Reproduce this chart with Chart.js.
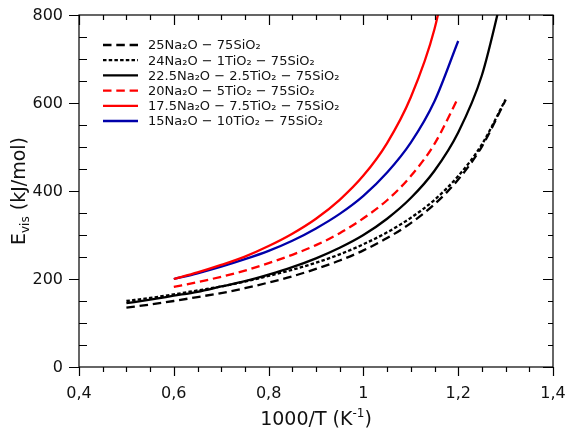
<!DOCTYPE html>
<html>
<head>
<meta charset="utf-8">
<script src="https://cdn.jsdelivr.net/npm/chart.js@4.4.0/dist/chart.umd.min.js"></script>
<style>
  html, body { margin: 0; padding: 0; background: #fff; }
  canvas { display: block; }
</style>
</head>
<body>
<canvas id="myChart" width="574" height="441"></canvas>
<script>
"use strict";

// DATA
const xWide = [0.5, 0.55, 0.6, 0.65, 0.7, 0.75, 0.8, 0.85, 0.9, 0.95, 1.0, 1.05, 1.1, 1.15, 1.2, 1.25, 1.3];
const xNarrow = [0.6, 0.65, 0.7, 0.75, 0.8, 0.85, 0.9, 0.95, 1.0, 1.05, 1.1, 1.15, 1.2];

const na25 = [135, 142, 150, 159, 168, 179, 192, 206, 223, 242, 265, 293, 327, 370, 426, 501, 607];
const na24 = [150, 157, 165, 174, 183, 194, 207, 221, 237, 256, 279, 306, 339, 380, 434, 506, 608];
const na225 = [145, 153, 162, 171, 183, 195, 210, 227, 247, 271, 300, 337, 384, 446, 533, 663, 879];
const na20 = [182, 193, 205, 219, 236, 255, 277, 304, 338, 379, 434, 507, 612];
const na175 = [200, 215, 232, 251, 275, 303, 337, 380, 435, 509, 613, 768, 1027];
const na15 = [200, 213, 228, 245, 264, 287, 315, 348, 389, 442, 510, 604, 741];

const seriesLabels = [
  "25Na₂O − 75SiO₂",
  "24Na₂O − 1TiO₂ − 75SiO₂",
  "22.5Na₂O − 2.5TiO₂ − 75SiO₂",
  "20Na₂O − 5TiO₂ − 75SiO₂",
  "17.5Na₂O − 7.5TiO₂ − 75SiO₂",
  "15Na₂O − 10TiO₂ − 75SiO₂",
];

const xTickValues = [0.4, 0.6, 0.8, 1.0, 1.2, 1.4];
const xTickLabels = ["0,4", "0,6", "0,8", "1", "1,2", "1,4"];
const yTickValues = [0, 200, 400, 600, 800];
const yTickLabels = ["0", "200", "400", "600", "800"];

const FONT = "'DejaVu Sans', sans-serif";
const ctx = document.getElementById("myChart");

const toPoints = (xs, ys) => xs.map((x, i) => ({ x: x, y: ys[i] }));

const makeSet = (label, xs, ys, color, dash) => ({
  label: label,
  data: toPoints(xs, ys),
  borderColor: color,
  borderWidth: 2.3,
  borderDash: dash,
  pointRadius: 0,
  cubicInterpolationMode: "monotone",
  fill: false,
});

// rich text with sub/superscripts
const drawRich = function (c, parts, x, y, align) {
  let w = 0;
  parts.forEach((p) => {
    c.font = p.s + "px " + FONT;
    w += c.measureText(p.t).width;
  });
  let cx = align === "center" ? x - w / 2 : x;
  parts.forEach((p) => {
    c.font = p.s + "px " + FONT;
    c.fillText(p.t, cx, y + (p.dy || 0));
    cx += c.measureText(p.t).width;
  });
};

// frame, ticks, tick labels, legend, axis titles
const decorations = {
  id: "decorations",
  afterDatasetsDraw(chart) {
    const c = chart.ctx;
    const a = chart.chartArea;
    const xs = chart.scales.x;
    const ys = chart.scales.y;
    c.save();
    c.strokeStyle = "#000";
    c.lineWidth = 1.2;
    c.setLineDash([]);
    c.strokeRect(a.left, a.top, a.right - a.left, a.bottom - a.top);

    c.beginPath();
    for (let i = 0; i <= 20; i++) {
      const px = Math.round(xs.getPixelForValue(0.4 + i * 0.05)) + 0.5;
      const major = i % 4 === 0;
      c.moveTo(px, a.bottom);
      c.lineTo(px, a.bottom + (major ? 9 : 5));
      c.moveTo(px, a.top);
      c.lineTo(px, a.top + (major ? 10 : 5));
    }
    for (let i = 0; i <= 16; i++) {
      const py = Math.round(ys.getPixelForValue(i * 50)) + 0.5;
      const major = i % 4 === 0;
      if (major) {
        c.moveTo(a.left - 10, py);
        c.lineTo(a.left, py);
      } else {
        c.moveTo(a.left, py);
        c.lineTo(a.left + 8, py);
      }
      c.moveTo(a.right, py);
      c.lineTo(a.right - (major ? 10 : 5), py);
    }
    c.stroke();

    // tick labels
    c.fillStyle = "#111";
    c.font = "16px " + FONT;
    c.textAlign = "center";
    c.textBaseline = "alphabetic";
    xTickValues.forEach((v, i) => {
      c.fillText(xTickLabels[i], xs.getPixelForValue(v), a.bottom + 31);
    });
    c.textAlign = "right";
    c.textBaseline = "middle";
    yTickValues.forEach((v, i) => {
      c.fillText(yTickLabels[i], a.left - 16, ys.getPixelForValue(v) + 1);
    });
    c.textAlign = "left";

    // legend
    chart.data.datasets.forEach((ds, i) => {
      const ly = 45 + i * 15.2;
      c.strokeStyle = ds.borderColor;
      c.lineWidth = ds.borderWidth;
      c.setLineDash(ds.borderDash || []);
      c.beginPath();
      c.moveTo(103, ly);
      c.lineTo(138, ly);
      c.stroke();
      c.font = "13px " + FONT;
      c.fillText(ds.label, 148, ly + 1);
    });
    c.setLineDash([]);

    // axis titles
    c.textBaseline = "alphabetic";
    drawRich(c, [
      { t: "1000/T (K", s: 19 },
      { t: "-1", s: 12, dy: -8 },
      { t: ")", s: 19 },
    ], (a.left + a.right) / 2, 425, "center");

    c.translate(25, (a.top + a.bottom) / 2);
    c.rotate(-Math.PI / 2);
    drawRich(c, [
      { t: "E", s: 19 },
      { t: "vis", s: 12, dy: 4 },
      { t: " (kJ/mol)", s: 19 },
    ], 0, 0, "center");
    c.restore();
  },
};

// CHART JS API
const chart = new Chart(ctx, {
  type: "line",
  data: {
    datasets: [
      makeSet(seriesLabels[0], xWide, na25, "#000000", [8.5, 4.8]),
      makeSet(seriesLabels[1], xWide, na24, "#000000", [3.5, 2.2]),
      makeSet(seriesLabels[2], xWide, na225, "#000000", []),
      makeSet(seriesLabels[3], xNarrow, na20, "#ff0000", [8.5, 4.8]),
      makeSet(seriesLabels[4], xNarrow, na175, "#ff0000", []),
      makeSet(seriesLabels[5], xNarrow, na15, "#0000aa", []),
    ],
  },
  options: {
    responsive: false,
    animation: false,
    devicePixelRatio: 1,
    layout: { padding: { top: 15, right: 21, left: 0, bottom: 0 } },
    plugins: {
      legend: { display: false },
      tooltip: { enabled: false },
    },
    scales: {
      x: {
        type: "linear",
        min: 0.4,
        max: 1.4,
        grid: { display: false },
        border: { display: false },
        ticks: { display: false },
        afterFit: (scale) => {
          scale.height = 74;
        },
      },
      y: {
        min: 0,
        max: 800,
        grid: { display: false },
        border: { display: false },
        ticks: { display: false },
        afterFit: (scale) => {
          scale.width = 79;
        },
      },
    },
  },
  plugins: [decorations],
});
</script>
</body>
</html>
